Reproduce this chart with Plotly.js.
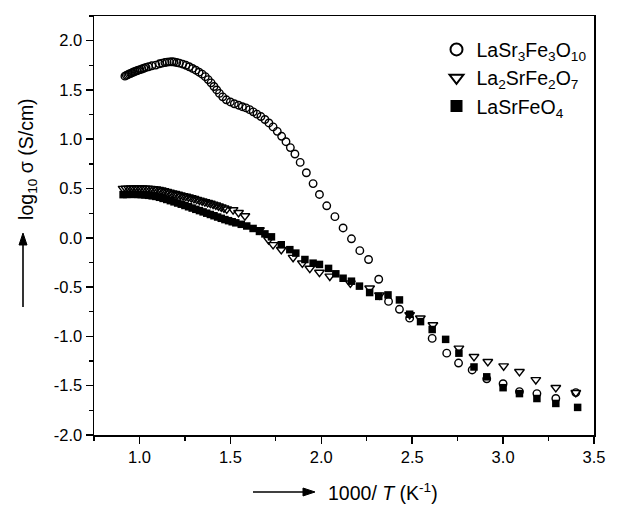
<!DOCTYPE html>
<html>
<head>
<meta charset="utf-8">
<script src="https://cdn.plot.ly/plotly-3.0.1.min.js"></script>
<style>html,body{margin:0;padding:0;background:#fff;}#chart{width:624px;height:507px;}</style>
</head>
<body>
<div id="chart"></div>
<script>
// Series names
const seriesNames = [
  "LaSr<sub>3</sub>Fe<sub>3</sub>O<sub>10</sub>",
  "La<sub>2</sub>SrFe<sub>2</sub>O<sub>7</sub>",
  "LaSrFeO<sub>4</sub>"
];

// Tick labels
const xTickVals = [1.0, 1.5, 2.0, 2.5, 3.0, 3.5];
const xTickText = ["1.0", "1.5", "2.0", "2.5", "3.0", "3.5"];
const yTickVals = [-2.0, -1.5, -1.0, -0.5, 0.0, 0.5, 1.0, 1.5, 2.0];
const yTickText = ["-2.0", "-1.5", "-1.0", "-0.5", "0.0", "0.5", "1.0", "1.5", "2.0"];

// LaSr3Fe3O10 (open circles)
const circX = [0.920,0.928,0.936,0.944,0.952,0.960,0.968,0.976,0.985,0.994,1.003,1.013,1.024,1.036,1.050,1.068,1.090,1.110,1.125,1.140,1.152,1.165,1.178,1.190,1.205,1.220,1.238,1.256,1.274,1.292,1.310,1.328,1.345,1.362,1.378,1.394,1.410,1.425,1.440,1.458,1.478,1.500,1.522,1.545,1.566,1.586,1.606,1.626,1.646,1.668,1.690,1.712,1.735,1.758,1.782,1.806,1.830,1.855,1.884,1.918,1.955,1.990,2.030,2.075,2.120,2.166,2.212,2.260,2.316,2.370,2.430,2.486,2.610,2.690,2.755,2.830,2.910,3.000,3.090,3.186,3.290,3.400];
const circY = [1.640,1.648,1.655,1.662,1.668,1.675,1.682,1.688,1.694,1.700,1.706,1.712,1.720,1.728,1.735,1.745,1.752,1.765,1.772,1.778,1.782,1.785,1.786,1.784,1.778,1.772,1.762,1.750,1.735,1.718,1.700,1.680,1.660,1.635,1.605,1.572,1.535,1.500,1.465,1.430,1.400,1.378,1.360,1.345,1.330,1.318,1.300,1.278,1.255,1.230,1.200,1.165,1.125,1.080,1.030,0.975,0.915,0.850,0.765,0.660,0.550,0.440,0.325,0.215,0.100,-0.010,-0.130,-0.220,-0.420,-0.645,-0.725,-0.815,-1.020,-1.170,-1.270,-1.340,-1.430,-1.480,-1.560,-1.580,-1.630,-1.570];

// La2SrFe2O7 (open down triangles)
const triX = [0.910,0.925,0.940,0.955,0.970,0.985,1.000,1.015,1.030,1.045,1.060,1.075,1.090,1.105,1.120,1.135,1.150,1.165,1.180,1.195,1.210,1.225,1.240,1.255,1.270,1.285,1.300,1.315,1.330,1.345,1.360,1.375,1.390,1.405,1.420,1.435,1.450,1.465,1.480,1.515,1.545,1.580,1.660,1.710,1.735,1.780,1.845,1.896,1.937,1.990,2.047,2.160,2.266,2.320,2.486,2.545,2.614,2.757,2.840,2.916,3.003,3.090,3.180,3.290,3.400];
const triY = [0.500,0.502,0.503,0.504,0.505,0.505,0.505,0.504,0.503,0.502,0.500,0.498,0.495,0.490,0.484,0.477,0.470,0.462,0.455,0.448,0.441,0.434,0.427,0.420,0.413,0.405,0.397,0.389,0.381,0.373,0.365,0.357,0.349,0.340,0.331,0.322,0.312,0.302,0.291,0.284,0.255,0.223,0.080,-0.020,-0.070,-0.120,-0.200,-0.257,-0.310,-0.350,-0.390,-0.460,-0.510,-0.580,-0.780,-0.815,-0.883,-1.120,-1.205,-1.256,-1.300,-1.357,-1.440,-1.520,-1.570];

// LaSrFeO4 (filled squares)
const sqX = [0.910,0.930,0.950,0.970,0.990,1.010,1.030,1.050,1.070,1.090,1.110,1.130,1.150,1.170,1.190,1.210,1.230,1.250,1.270,1.290,1.310,1.330,1.350,1.370,1.390,1.410,1.430,1.450,1.470,1.490,1.510,1.530,1.560,1.590,1.625,1.660,1.690,1.726,1.780,1.827,1.860,1.910,1.955,1.990,2.040,2.080,2.120,2.166,2.210,2.266,2.316,2.367,2.430,2.486,2.546,2.610,2.684,2.757,2.840,2.910,3.000,3.090,3.186,3.290,3.410];
const sqY = [0.438,0.440,0.441,0.441,0.440,0.438,0.435,0.431,0.426,0.420,0.411,0.400,0.389,0.377,0.365,0.353,0.341,0.328,0.315,0.302,0.289,0.276,0.263,0.250,0.237,0.224,0.211,0.198,0.185,0.174,0.163,0.152,0.137,0.120,0.095,0.065,0.040,0.010,-0.070,-0.120,-0.155,-0.220,-0.257,-0.270,-0.310,-0.365,-0.410,-0.440,-0.490,-0.555,-0.594,-0.579,-0.630,-0.775,-0.850,-0.930,-1.030,-1.170,-1.310,-1.410,-1.520,-1.580,-1.630,-1.680,-1.720];

const FONT = "Liberation Sans, Arial, Helvetica, sans-serif";

const traces = [
  {x: circX, y: circY, name: seriesNames[0], mode: "markers", type: "scatter",
   marker: {symbol: "circle-open", size: 7.5, color: "#000", line: {width: 1.4, color: "#000"}}},
  {x: triX, y: triY, name: seriesNames[1], mode: "markers", type: "scatter",
   marker: {symbol: "triangle-down-open", size: 8.5, color: "#000", line: {width: 1.4, color: "#000"}}},
  {x: sqX, y: sqY, name: seriesNames[2], mode: "markers", type: "scatter",
   marker: {symbol: "square", size: 7.5, color: "#000", line: {width: 0}}}
];

const axisCommon = {
  showline: true, linecolor: "#000", linewidth: 1.5, mirror: true,
  showgrid: false, zeroline: false,
  ticks: "outside", ticklen: 7, tickwidth: 1.5, tickcolor: "#000",
  tickfont: {family: FONT, size: 16.5, color: "#000"},
  tickmode: "array",
  minor: {ticks: "outside", ticklen: 4, tickwidth: 1.3, tickcolor: "#000", dtick: 0.25, tick0: 0, showgrid: false}
};

const layout = {
  width: 624, height: 507,
  margin: {l: 94, r: 30, t: 16, b: 72},
  paper_bgcolor: "#fff", plot_bgcolor: "#fff",
  font: {family: FONT, color: "#000"},
  showlegend: true,
  legend: {x: 0.685, y: 0.966, xanchor: "left", yanchor: "top",
           font: {family: FONT, size: 19.5, color: "#000"},
           bgcolor: "rgba(0,0,0,0)", borderwidth: 0, tracegroupgap: 0, itemsizing: "constant"},
  xaxis: Object.assign({}, axisCommon, {range: [0.75, 3.5], tickvals: xTickVals, ticktext: xTickText}),
  yaxis: Object.assign({}, axisCommon, {range: [-2.0, 2.25], tickvals: yTickVals, ticktext: yTickText}),
  annotations: [
    {xref: "paper", yref: "paper", x: 0.578, y: -0.136, xanchor: "center", yanchor: "middle",
     text: "1000/ <i>T</i> (K<sup>-1</sup>)", showarrow: false, font: {family: FONT, size: 19.5, color: "#000"}},
    {xref: "paper", yref: "paper", x: -0.132, y: 0.659, xanchor: "center", yanchor: "middle", textangle: -90,
     text: "log<sub>10</sub> σ (S/cm)", showarrow: false, font: {family: FONT, size: 19.5, color: "#000"}}
  ],
  shapes: [
    // x-title arrow
    {type: "line", xref: "paper", yref: "paper", x0: 0.318, x1: 0.422, y0: -0.136, y1: -0.136,
     line: {color: "#000", width: 1.6}},
    {type: "path", xref: "paper", yref: "paper", path: "M 0.418 -0.1265 L 0.442 -0.136 L 0.418 -0.1455 Z",
     fillcolor: "#000", line: {color: "#000", width: 1}},
    // y-title arrow
    {type: "line", xref: "paper", yref: "paper", x0: -0.142, x1: -0.142, y0: 0.3055, y1: 0.458,
     line: {color: "#000", width: 1.6}},
    {type: "path", xref: "paper", yref: "paper", path: "M -0.150 0.4535 L -0.142 0.482 L -0.134 0.4535 Z",
     fillcolor: "#000", line: {color: "#000", width: 1}}
  ]
};

Plotly.newPlot("chart", traces, layout, {displayModeBar: false, staticPlot: true});
</script>
</body>
</html>
